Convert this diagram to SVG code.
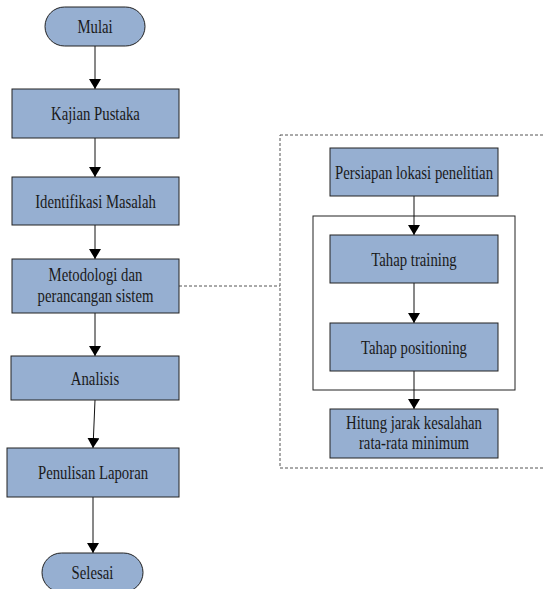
<svg xmlns="http://www.w3.org/2000/svg" width="544" height="589" viewBox="0 0 544 589">
<style>
.box{fill:#96AFD1;stroke:#222;stroke-width:1}
.frame{fill:none;stroke:#222;stroke-width:1}
.dash{fill:none;stroke:#555;stroke-width:1;stroke-dasharray:3,2}
.c{fill:none;stroke:#111;stroke-width:1}
text{font-family:"Liberation Serif","Times New Roman",serif;font-size:18px;fill:#1a1a1a;text-anchor:middle}
</style>
<defs>
<marker id="ah" viewBox="0 0 10 12" refX="10" refY="6" markerWidth="10" markerHeight="12" markerUnits="userSpaceOnUse" orient="auto">
<path d="M0,0 L10,6 L0,12 Z" fill="#000"/>
</marker>
</defs>
<rect class="dash" x="280" y="135" width="270" height="333"/>
<rect class="frame" x="313" y="216" width="202" height="174"/>
<g id="connectors">
<line class="c" x1="95" y1="46" x2="95" y2="89" marker-end="url(#ah)"/>
<line class="c" x1="95" y1="138" x2="95" y2="177" marker-end="url(#ah)"/>
<line class="c" x1="95" y1="225" x2="95" y2="259" marker-end="url(#ah)"/>
<line class="c" x1="95" y1="313" x2="95" y2="356" marker-end="url(#ah)"/>
<line class="c" x1="95" y1="400" x2="93" y2="448" marker-end="url(#ah)"/>
<line class="c" x1="93" y1="497" x2="93" y2="553" marker-end="url(#ah)"/>
<line class="dash" x1="179" y1="286" x2="280" y2="286"/>
<line class="c" x1="414" y1="196" x2="414" y2="235" marker-end="url(#ah)"/>
<line class="c" x1="414" y1="283" x2="414" y2="323" marker-end="url(#ah)"/>
<line class="c" x1="414" y1="371" x2="414" y2="409" marker-end="url(#ah)"/>
</g>
<g id="mulai"><rect class="box" x="45" y="7" width="100" height="39" rx="19.5"/><text transform="translate(95 33) scale(0.82 1)">Mulai</text></g>
<g id="kajian"><rect class="box" x="12" y="89" width="167" height="49"/><text transform="translate(95.5 120) scale(0.82 1)">Kajian Pustaka</text></g>
<g id="identifikasi"><rect class="box" x="12" y="177" width="167" height="48"/><text transform="translate(95.5 207.5) scale(0.82 1)">Identifikasi Masalah</text></g>
<g id="metodologi"><rect class="box" x="12" y="259" width="167" height="54"/><text transform="translate(95.5 281) scale(0.82 1)">Metodologi dan</text><text transform="translate(95.5 302) scale(0.82 1)">perancangan sistem</text></g>
<g id="analisis"><rect class="box" x="11" y="356" width="168" height="44"/><text transform="translate(95 384.5) scale(0.82 1)">Analisis</text></g>
<g id="penulisan"><rect class="box" x="7" y="448" width="172" height="49"/><text transform="translate(93 479) scale(0.82 1)">Penulisan Laporan</text></g>
<g id="selesai"><rect class="box" x="42" y="553" width="101" height="39" rx="19.5"/><text transform="translate(92.5 579) scale(0.82 1)">Selesai</text></g>
<g id="persiapan"><rect class="box" x="330" y="148" width="168" height="48"/><text transform="translate(414 178.5) scale(0.82 1)">Persiapan lokasi penelitian</text></g>
<g id="training"><rect class="box" x="330" y="235" width="168" height="48"/><text transform="translate(414 265.5) scale(0.82 1)">Tahap training</text></g>
<g id="positioning"><rect class="box" x="330" y="323" width="168" height="48"/><text transform="translate(414 353.5) scale(0.82 1)">Tahap positioning</text></g>
<g id="hitung"><rect class="box" x="330" y="409" width="168" height="49"/><text transform="translate(414 429) scale(0.82 1)">Hitung jarak kesalahan</text><text transform="translate(414 449) scale(0.82 1)">rata-rata minimum</text></g>
</svg>
